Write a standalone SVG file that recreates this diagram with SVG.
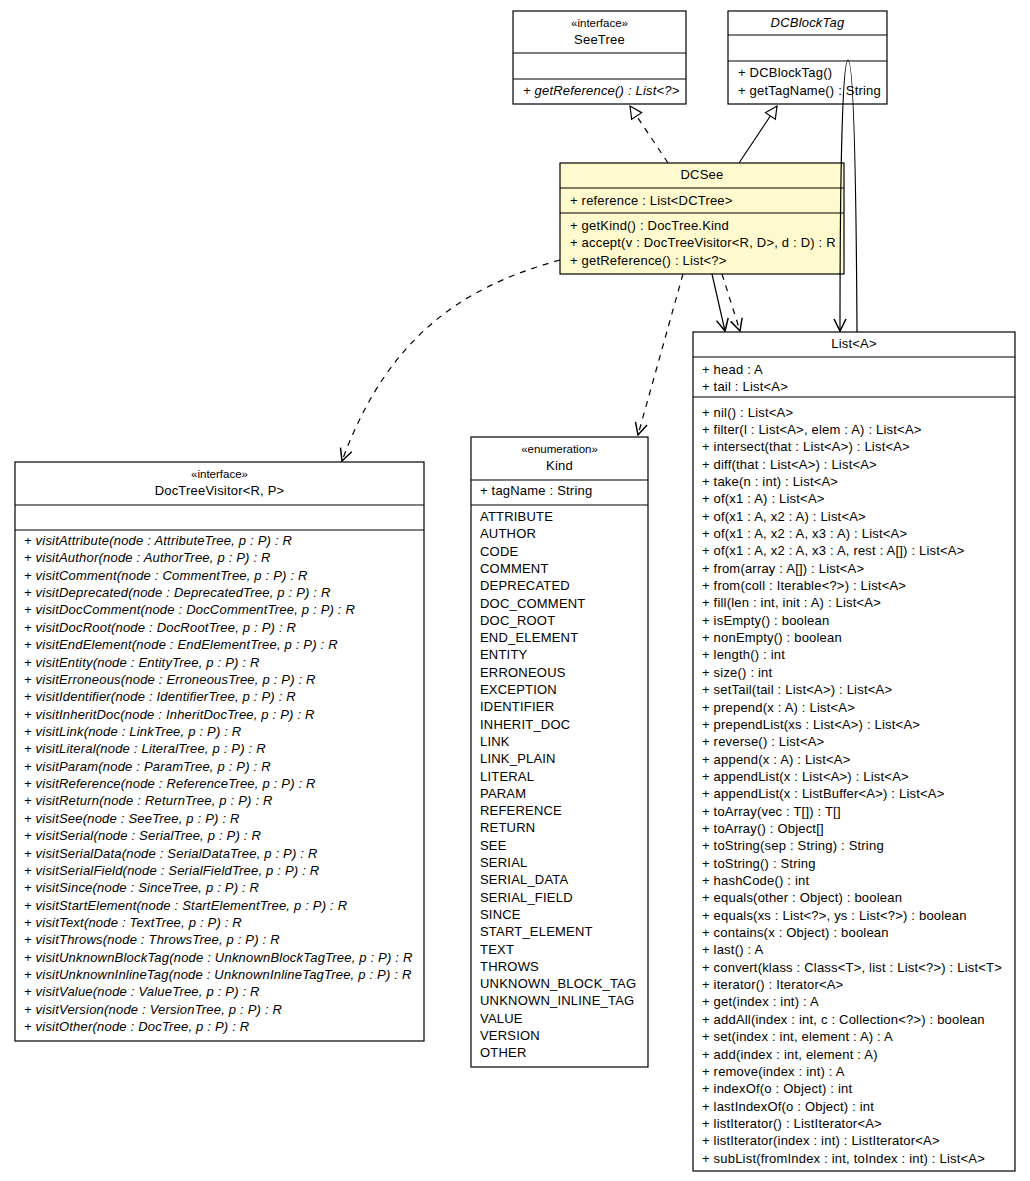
<svg xmlns="http://www.w3.org/2000/svg" width="1030" height="1181" viewBox="0 0 1030 1181">
<style>
text{font-family:"Liberation Sans",Arial,sans-serif;font-size:13px;letter-spacing:0.2px;fill:#000}
.c{text-anchor:middle}
.i{font-style:italic}
.s{font-size:11.5px;letter-spacing:0}
rect{fill:#fff;stroke:#000;stroke-width:1.2}
.y{fill:#fffacd}
line.d{stroke:#000;stroke-width:1.2}
.e{fill:none;stroke:#000;stroke-width:1.2}
.da{stroke-dasharray:6,6}
</style>
<defs>
<marker id="tri" markerWidth="14" markerHeight="14" refX="13" refY="7" orient="auto" markerUnits="userSpaceOnUse"><path d="M1,1 L13,7 L1,13 Z" fill="#fff" stroke="#000" stroke-width="1.2"/></marker>
<marker id="arr" markerWidth="14" markerHeight="14" refX="13" refY="7" orient="auto" markerUnits="userSpaceOnUse"><path d="M1,1 L13,7 L1,13" fill="none" stroke="#000" stroke-width="1.5"/></marker>
</defs>
<g id="SeeTree">
<rect x="513" y="11" width="173" height="93"/>
<line class="d" x1="513" y1="53" x2="686" y2="53"/><line class="d" x1="513" y1="79" x2="686" y2="79"/>
<text class="c s" x="599.5" y="27">«interface»</text>
<text class="c" x="599.5" y="44">SeeTree</text>
<text class="i" x="523" y="95">+ getReference() : List&lt;?&gt;</text>
</g>
<g id="DCBlockTag">
<rect x="728" y="11" width="159" height="93"/>
<line class="d" x1="728" y1="35" x2="887" y2="35"/><line class="d" x1="728" y1="61" x2="887" y2="61"/>
<text class="c i" x="807.5" y="27">DCBlockTag</text>
<text x="738" y="77">+ DCBlockTag()</text>
<text x="738" y="95">+ getTagName() : String</text>
</g>
<g id="DCSee">
<rect class="y" x="560" y="163" width="284" height="111"/>
<line class="d" x1="560" y1="188" x2="844" y2="188"/><line class="d" x1="560" y1="213" x2="844" y2="213"/>
<text class="c" x="702" y="179">DCSee</text>
<text x="570" y="205">+ reference : List&lt;DCTree&gt;</text>
<text x="570" y="230">+ getKind() : DocTree.Kind</text>
<text x="570" y="247">+ accept(v : DocTreeVisitor&lt;R, D&gt;, d : D) : R</text>
<text x="570" y="265">+ getReference() : List&lt;?&gt;</text>
</g>
<g id="DocTreeVisitor">
<rect x="15" y="462" width="409" height="579"/>
<line class="d" x1="15" y1="505" x2="424" y2="505"/><line class="d" x1="15" y1="530" x2="424" y2="530"/>
<text class="c s" x="219.5" y="478">«interface»</text>
<text class="c" x="219.5" y="495">DocTreeVisitor&lt;R, P&gt;</text>
<g class="i">
<text x="24" y="545">+ visitAttribute(node : AttributeTree, p : P) : R</text>
<text x="24" y="562.4">+ visitAuthor(node : AuthorTree, p : P) : R</text>
<text x="24" y="579.7">+ visitComment(node : CommentTree, p : P) : R</text>
<text x="24" y="597.1">+ visitDeprecated(node : DeprecatedTree, p : P) : R</text>
<text x="24" y="614.4">+ visitDocComment(node : DocCommentTree, p : P) : R</text>
<text x="24" y="631.8">+ visitDocRoot(node : DocRootTree, p : P) : R</text>
<text x="24" y="649.2">+ visitEndElement(node : EndElementTree, p : P) : R</text>
<text x="24" y="666.5">+ visitEntity(node : EntityTree, p : P) : R</text>
<text x="24" y="683.9">+ visitErroneous(node : ErroneousTree, p : P) : R</text>
<text x="24" y="701.2">+ visitIdentifier(node : IdentifierTree, p : P) : R</text>
<text x="24" y="718.6">+ visitInheritDoc(node : InheritDocTree, p : P) : R</text>
<text x="24" y="736">+ visitLink(node : LinkTree, p : P) : R</text>
<text x="24" y="753.3">+ visitLiteral(node : LiteralTree, p : P) : R</text>
<text x="24" y="770.7">+ visitParam(node : ParamTree, p : P) : R</text>
<text x="24" y="788">+ visitReference(node : ReferenceTree, p : P) : R</text>
<text x="24" y="805.4">+ visitReturn(node : ReturnTree, p : P) : R</text>
<text x="24" y="822.8">+ visitSee(node : SeeTree, p : P) : R</text>
<text x="24" y="840.1">+ visitSerial(node : SerialTree, p : P) : R</text>
<text x="24" y="857.5">+ visitSerialData(node : SerialDataTree, p : P) : R</text>
<text x="24" y="874.8">+ visitSerialField(node : SerialFieldTree, p : P) : R</text>
<text x="24" y="892.2">+ visitSince(node : SinceTree, p : P) : R</text>
<text x="24" y="909.6">+ visitStartElement(node : StartElementTree, p : P) : R</text>
<text x="24" y="926.9">+ visitText(node : TextTree, p : P) : R</text>
<text x="24" y="944.3">+ visitThrows(node : ThrowsTree, p : P) : R</text>
<text x="24" y="961.6">+ visitUnknownBlockTag(node : UnknownBlockTagTree, p : P) : R</text>
<text x="24" y="979">+ visitUnknownInlineTag(node : UnknownInlineTagTree, p : P) : R</text>
<text x="24" y="996.4">+ visitValue(node : ValueTree, p : P) : R</text>
<text x="24" y="1013.7">+ visitVersion(node : VersionTree, p : P) : R</text>
<text x="24" y="1031">+ visitOther(node : DocTree, p : P) : R</text>
</g>
</g>
<g id="Kind">
<rect x="471" y="437" width="177" height="630"/>
<line class="d" x1="471" y1="480" x2="648" y2="480"/><line class="d" x1="471" y1="505" x2="648" y2="505"/>
<text class="c s" x="559.5" y="453">«enumeration»</text>
<text class="c" x="559.5" y="470">Kind</text>
<text x="480" y="495">+ tagName : String</text>
<text x="480" y="521">ATTRIBUTE</text>
<text x="480" y="538.3">AUTHOR</text>
<text x="480" y="555.6">CODE</text>
<text x="480" y="572.9">COMMENT</text>
<text x="480" y="590.2">DEPRECATED</text>
<text x="480" y="607.5">DOC_COMMENT</text>
<text x="480" y="624.8">DOC_ROOT</text>
<text x="480" y="642.1">END_ELEMENT</text>
<text x="480" y="659.4">ENTITY</text>
<text x="480" y="676.7">ERRONEOUS</text>
<text x="480" y="694">EXCEPTION</text>
<text x="480" y="711.3">IDENTIFIER</text>
<text x="480" y="728.6">INHERIT_DOC</text>
<text x="480" y="745.9">LINK</text>
<text x="480" y="763.2">LINK_PLAIN</text>
<text x="480" y="780.5">LITERAL</text>
<text x="480" y="797.8">PARAM</text>
<text x="480" y="815.1">REFERENCE</text>
<text x="480" y="832.4">RETURN</text>
<text x="480" y="849.7">SEE</text>
<text x="480" y="867">SERIAL</text>
<text x="480" y="884.3">SERIAL_DATA</text>
<text x="480" y="901.6">SERIAL_FIELD</text>
<text x="480" y="918.9">SINCE</text>
<text x="480" y="936.2">START_ELEMENT</text>
<text x="480" y="953.5">TEXT</text>
<text x="480" y="970.8">THROWS</text>
<text x="480" y="988.1">UNKNOWN_BLOCK_TAG</text>
<text x="480" y="1005.4">UNKNOWN_INLINE_TAG</text>
<text x="480" y="1022.7">VALUE</text>
<text x="480" y="1040">VERSION</text>
<text x="480" y="1057.3">OTHER</text>
</g>
<g id="ListA">
<rect x="693" y="332" width="322" height="839"/>
<line class="d" x1="693" y1="357" x2="1015" y2="357"/><line class="d" x1="693" y1="397" x2="1015" y2="397"/>
<text class="c" x="854" y="348">List&lt;A&gt;</text>
<text x="702" y="374">+ head : A</text>
<text x="702" y="391">+ tail : List&lt;A&gt;</text>
<text x="702" y="416.5">+ nil() : List&lt;A&gt;</text>
<text x="702" y="433.9">+ filter(l : List&lt;A&gt;, elem : A) : List&lt;A&gt;</text>
<text x="702" y="451.2">+ intersect(that : List&lt;A&gt;) : List&lt;A&gt;</text>
<text x="702" y="468.6">+ diff(that : List&lt;A&gt;) : List&lt;A&gt;</text>
<text x="702" y="485.9">+ take(n : int) : List&lt;A&gt;</text>
<text x="702" y="503.3">+ of(x1 : A) : List&lt;A&gt;</text>
<text x="702" y="520.6">+ of(x1 : A, x2 : A) : List&lt;A&gt;</text>
<text x="702" y="538">+ of(x1 : A, x2 : A, x3 : A) : List&lt;A&gt;</text>
<text x="702" y="555.3">+ of(x1 : A, x2 : A, x3 : A, rest : A[]) : List&lt;A&gt;</text>
<text x="702" y="572.7">+ from(array : A[]) : List&lt;A&gt;</text>
<text x="702" y="590">+ from(coll : Iterable&lt;?&gt;) : List&lt;A&gt;</text>
<text x="702" y="607.4">+ fill(len : int, init : A) : List&lt;A&gt;</text>
<text x="702" y="624.7">+ isEmpty() : boolean</text>
<text x="702" y="642.1">+ nonEmpty() : boolean</text>
<text x="702" y="659.4">+ length() : int</text>
<text x="702" y="676.8">+ size() : int</text>
<text x="702" y="694.1">+ setTail(tail : List&lt;A&gt;) : List&lt;A&gt;</text>
<text x="702" y="711.5">+ prepend(x : A) : List&lt;A&gt;</text>
<text x="702" y="728.8">+ prependList(xs : List&lt;A&gt;) : List&lt;A&gt;</text>
<text x="702" y="746.2">+ reverse() : List&lt;A&gt;</text>
<text x="702" y="763.5">+ append(x : A) : List&lt;A&gt;</text>
<text x="702" y="780.9">+ appendList(x : List&lt;A&gt;) : List&lt;A&gt;</text>
<text x="702" y="798.2">+ appendList(x : ListBuffer&lt;A&gt;) : List&lt;A&gt;</text>
<text x="702" y="815.6">+ toArray(vec : T[]) : T[]</text>
<text x="702" y="832.9">+ toArray() : Object[]</text>
<text x="702" y="850.3">+ toString(sep : String) : String</text>
<text x="702" y="867.6">+ toString() : String</text>
<text x="702" y="885">+ hashCode() : int</text>
<text x="702" y="902.3">+ equals(other : Object) : boolean</text>
<text x="702" y="919.7">+ equals(xs : List&lt;?&gt;, ys : List&lt;?&gt;) : boolean</text>
<text x="702" y="937">+ contains(x : Object) : boolean</text>
<text x="702" y="954.4">+ last() : A</text>
<text x="702" y="971.7">+ convert(klass : Class&lt;T&gt;, list : List&lt;?&gt;) : List&lt;T&gt;</text>
<text x="702" y="989.1">+ iterator() : Iterator&lt;A&gt;</text>
<text x="702" y="1006.4">+ get(index : int) : A</text>
<text x="702" y="1023.8">+ addAll(index : int, c : Collection&lt;?&gt;) : boolean</text>
<text x="702" y="1041.1">+ set(index : int, element : A) : A</text>
<text x="702" y="1058.5">+ add(index : int, element : A)</text>
<text x="702" y="1075.8">+ remove(index : int) : A</text>
<text x="702" y="1093.2">+ indexOf(o : Object) : int</text>
<text x="702" y="1110.5">+ lastIndexOf(o : Object) : int</text>
<text x="702" y="1127.9">+ listIterator() : ListIterator&lt;A&gt;</text>
<text x="702" y="1145.2">+ listIterator(index : int) : ListIterator&lt;A&gt;</text>
<text x="702" y="1162.6">+ subList(fromIndex : int, toIndex : int) : List&lt;A&gt;</text>
</g>
<g id="connectors">
<path class="e da" d="M668,163 L630,106" marker-end="url(#tri)"/>
<path class="e" d="M739,163 L777,106" marker-end="url(#tri)"/>
<path class="e" d="M857,332 C856,150 853,60 848,60 C843,60 840,150 840,331" marker-end="url(#arr)"/>
<path class="e" d="M712,274 L725,331" marker-end="url(#arr)"/>
<path class="e da" d="M722,274 L740,331" marker-end="url(#arr)"/>
<path class="e da" d="M683,274 L638,435" marker-end="url(#arr)"/>
<path class="e da" d="M560,260 C470,285 390,330 342,461" marker-end="url(#arr)"/>
</g>
</svg>
